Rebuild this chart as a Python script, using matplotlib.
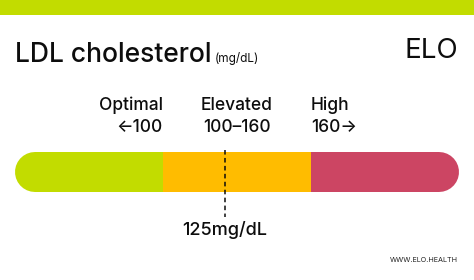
import matplotlib.pyplot as plt

# ranges in mg/dL
categories = ["Optimal", "Elevated", "High"]
range_labels = ["\u2190100", "100\u2013160", "160\u2192"]
thresholds = [100, 160]
span = 60          # each segment drawn with equal width
value = 125
unit = "mg/dL"

GREEN = "#c2dc00"
ORANGE = "#ffbc00"
RED = "#cc4563"
INK = "#0d0d0d"
FONT = ["Inter", "DejaVu Sans"]

W, H = 474, 280
fig = plt.figure(figsize=(W / 100, H / 100), dpi=100)
ax = fig.add_axes([0, 0, 1, 1])
lo, hi = thresholds[0] - span, thresholds[1] + span
# x in mg/dL, y in pixels from the top
px_per_unit = 148 / span
ax.set_xlim(thresholds[0] - 163 / px_per_unit, thresholds[0] + (W - 163) / px_per_unit)
ax.set_ylim(H, 0)
ax.axis("off")

# top band
ax.axhspan(0, 15, color=GREEN, lw=0)

# title
fig.text(15 / W, 1 - 62 / H, "LDL cholesterol", family=FONT, fontsize=19,
         weight="medium", color=INK, va="baseline", ha="left")
fig.text(215 / W, 1 - 62 / H, "(" + unit + ")", family=FONT, fontsize=8.5,
         color=INK, va="baseline", ha="left")
fig.text(458 / W, 1 - 58 / H, "ELO", family=FONT, fontsize=20,
         color=INK, va="baseline", ha="right")

# bar with rounded ends
r = 20 / px_per_unit
lw = 40 * 72 / 100
ybar = 172
ax.plot([lo + r, thresholds[0]], [ybar, ybar], color=GREEN, lw=lw,
        solid_capstyle="round", zorder=2)
ax.plot([thresholds[1], hi - r], [ybar, ybar], color=RED, lw=lw,
        solid_capstyle="round", zorder=2)
ax.plot(thresholds, [ybar, ybar], color=ORANGE, lw=lw,
        solid_capstyle="butt", zorder=3)

# category labels
xs = [thresholds[0], sum(thresholds) / 2, thresholds[1]]
has = ["right", "center", "left"]
for cat, rl, x, ha in zip(categories, range_labels, xs, has):
    ax.text(x, 110, cat, family=FONT, fontsize=12.5, weight="medium",
            color=INK, ha=ha, va="baseline")
    ax.text(x, 132, rl, family=FONT, fontsize=12.5, weight="medium",
            color=INK, ha=ha, va="baseline")

# marker
ax.plot([value, value], [150, 217], color=INK, lw=1.1,
        dashes=(3, 2.2), zorder=4)
ax.text(value, 235, f"{value}{unit}", family=FONT, fontsize=13,
        weight="medium", color=INK, ha="center", va="baseline")

fig.text(458 / W, 1 - 262 / H, "WWW.ELO.HEALTH", family=FONT, fontsize=5.2,
         color="#222222", ha="right", va="baseline")

fig.savefig("out.png", dpi=100, facecolor="white")
